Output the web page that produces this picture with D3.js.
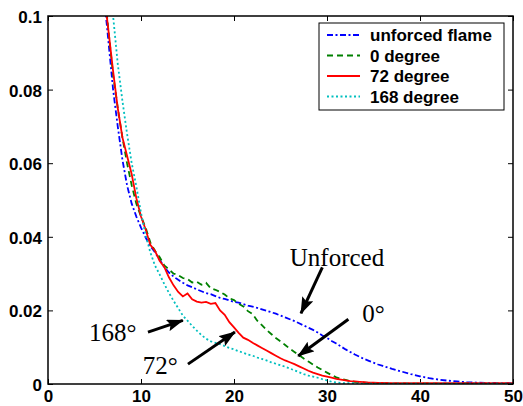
<!DOCTYPE html>
<html>
<head>
<meta charset="utf-8">
<script src="https://cdn.jsdelivr.net/npm/d3@7"></script>
<style>
  body { margin: 0; background: #fff; }
  svg { display: block; }
  .tick text { font-family: "Liberation Sans", Arial, sans-serif; font-size: 17px; font-weight: bold; fill: #000; }
  .tick line { stroke: #000; stroke-width: 1; }
</style>
</head>
<body>
<script>
// x grid (distance) shared by all series
var xs = [6,6.5,7,7.5,8,8.5,9,9.5,10,10.5,11,11.5,12,12.5,13,13.5,14,14.5,15,15.5,
  16,16.5,17,17.5,18,18.5,19,19.5,20,20.5,21,21.5,22,22.5,23,23.5,24,24.5,25,25.5,
  26,26.5,27,27.5,28,28.5,29,29.5,30,30.5,31,31.5,32,32.5,33,33.5,34,34.5,35,35.5,36,
  37,38,39,40,41,42,43,44,45,46,47,48,49,50];

var unforced = [0.106,0.093,0.080,0.070,0.061,0.054,0.049,0.0455,0.0425,0.0398,0.0375,0.0358,0.0338,0.0318,0.0303,0.0292,0.0283,0.0275,0.0268,0.0263,
  0.0257,0.0252,0.0247,0.0244,0.0239,0.0234,0.0231,0.0227,0.0223,0.0221,0.0217,0.0213,0.0210,0.0207,0.0203,0.0199,0.0195,0.0191,0.0186,0.0181,
  0.0176,0.0171,0.0165,0.0159,0.0153,0.0147,0.0140,0.0132,0.0125,0.0117,0.0110,0.0102,0.0094,0.0087,0.0080,0.0074,0.0068,0.0063,0.0058,0.0053,0.0049,
  0.0041,0.0034,0.0027,0.0021,0.0016,0.0012,0.0009,0.0007,0.0005,0.0004,0.0003,0.0003,0.0002,0.0002];

var deg0 = [0.109,0.096,0.084,0.075,0.067,0.060,0.054,0.049,0.0455,0.0425,0.0385,0.0362,0.0345,0.0322,0.0312,0.0300,0.0296,0.0288,0.0285,0.0276,
  0.0278,0.0270,0.0275,0.0260,0.0256,0.0250,0.0243,0.0233,0.0228,0.0218,0.0211,0.0198,0.0190,0.0172,0.0160,0.0147,0.0136,0.0125,0.0116,0.0106,
  0.0096,0.0087,0.0078,0.0069,0.0061,0.0053,0.0045,0.0038,0.0031,0.0024,0.0018,0.0014,0.0011,0.0008,0.0006,0.0005,0.0004,0.0003,0.0003,0.0002,0.0002,
  0.0001,0.0002,0.0001,0.0001,0.0002,0.0001,0.0001,0.0001,0.0002,0.0001,0.0001,0.0001,0.0001,0.0001];

var deg72 = [0.107,0.096,0.085,0.075,0.067,0.062,0.057,0.0505,0.0455,0.0420,0.0378,0.0362,0.0335,0.0318,0.0290,0.0268,0.0250,0.0238,0.0246,0.0230,
  0.0224,0.0221,0.0223,0.0218,0.0220,0.0200,0.0188,0.0168,0.0154,0.0139,0.0126,0.0120,0.0112,0.0105,0.0098,0.0091,0.0084,0.0077,0.0070,0.0064,
  0.0059,0.0054,0.0048,0.0042,0.0036,0.0031,0.0027,0.0023,0.0020,0.0017,0.0014,0.0012,0.0010,0.0008,0.0007,0.0006,0.0005,0.0004,0.0004,0.0003,0.0003,
  0.0002,0.0002,0.0002,0.0002,0.0002,0.0002,0.0002,0.0002,0.0002,0.0002,0.0002,0.0002,0.0002,0.0002];

var deg168 = [0.125,0.112,0.100,0.087,0.077,0.068,0.060,0.0537,0.0465,0.0405,0.0358,0.0322,0.0298,0.0272,0.0248,0.0226,0.0206,0.0186,0.0172,0.0158,
  0.0145,0.0133,0.0123,0.0116,0.0112,0.0108,0.0103,0.0098,0.0094,0.0089,0.0085,0.0080,0.0077,0.0072,0.0068,0.0064,0.0059,0.0055,0.0051,0.0047,
  0.0042,0.0037,0.0032,0.0027,0.0023,0.0020,0.0017,0.0013,0.0010,0.0006,0.0004,0.0003,0.0002,0.0002,0.0002,0.0001,0.0001,0.0001,0.0001,0.0001,0.0001,
  0.0001,0.0001,0.0001,0.0001,0.0001,0.0001,0.0001,0.0001,0.0001,0.0001,0.0001,0.0001,0.0001,0.0001];

var seriesNames = ["unforced flame", "0 degree", "72 degree", "168 degree"];
var xTicks = [0, 10, 20, 30, 40, 50];
var yTicks = [0, 0.02, 0.04, 0.06, 0.08, 0.1];

// annotation labels: text, text anchor point, arrow start, arrow tip (data coords)
var notes = [
  { t: "Unforced", at: [26.0, 0.032], from: [29.5, 0.0317], to: [27.2, 0.0192] },
  { t: "0\u00b0", at: [33.8, 0.0168], from: [32.3, 0.0176], to: [26.9, 0.0076] },
  { t: "168\u00b0", at: [4.4, 0.0117], from: [10.75, 0.0141], to: [14.5, 0.0173] },
  { t: "72\u00b0", at: [10.2, 0.0027], from: [15.05, 0.0054], to: [20.1, 0.0141] }
];

var W = 523, H = 406;
var m = { top: 16, right: 10, bottom: 22, left: 48 };
var w = W - m.left - m.right, h = H - m.top - m.bottom;

var styles = [
  { color: "#0000ff", dash: "6,2.5,2,2.5" },
  { color: "#008000", dash: "6,4" },
  { color: "#ff0000", dash: null },
  { color: "#00bfbf", dash: "2,2.5" }
];

var svg = d3.select("body").append("svg").attr("width", W).attr("height", H);
var g = svg.append("g").attr("transform", "translate(" + m.left + "," + m.top + ")");

var x = d3.scaleLinear().domain([0, 50]).range([0, w]);
var y = d3.scaleLinear().domain([0, 0.1]).range([h, 0]);

g.append("clipPath").attr("id", "clip").append("rect").attr("width", w).attr("height", h);

// axes, ticks pointing inward like matlab
g.append("g").attr("transform", "translate(0," + h + ")")
  .call(d3.axisBottom(x).tickValues(xTicks).tickSize(-5).tickSizeOuter(0).tickPadding(6).tickFormat(d3.format("d")));
var ay = g.append("g")
  .call(d3.axisLeft(y).tickValues(yTicks).tickSize(-5).tickSizeOuter(0).tickPadding(6).tickFormat(function(d) { return d === 0 ? "0" : d3.format("")(+d.toFixed(2)); }));
ay.selectAll(".tick text").attr("dy", "0.38em");
g.append("g").attr("transform", "translate(" + w + ",0)")
  .call(d3.axisRight(y).tickValues(yTicks).tickSize(-5).tickSizeOuter(0).tickFormat(""));
g.append("g")
  .call(d3.axisTop(x).tickValues(xTicks).tickSize(-5).tickSizeOuter(0).tickFormat(""));
g.selectAll(".domain").remove();

var line = d3.line().x(function(d) { return x(d[0]); }).y(function(d) { return y(d[1]); });
var allSeries = [unforced, deg0, deg72, deg168];

var plot = g.append("g").attr("clip-path", "url(#clip)");
allSeries.forEach(function(vals, i) {
  plot.append("path")
    .datum(xs.map(function(xv, j) { return [xv, vals[j]]; }))
    .attr("d", line)
    .attr("fill", "none")
    .attr("stroke", styles[i].color)
    .attr("stroke-width", 1.8)
    .attr("stroke-dasharray", styles[i].dash);
});

// frame
g.append("rect").attr("width", w).attr("height", h)
  .attr("fill", "none").attr("stroke", "#000").attr("stroke-width", 1.5);

// annotations
svg.append("defs").append("marker").attr("id", "arr")
  .attr("viewBox", "0 0 17 12").attr("refX", 16).attr("refY", 6)
  .attr("markerWidth", 17).attr("markerHeight", 12)
  .attr("markerUnits", "userSpaceOnUse").attr("orient", "auto")
  .append("path").attr("d", "M0,0L17,6L0,12L3,6Z").attr("fill", "#000");

var ann = g.append("g");
notes.forEach(function(n) {
  ann.append("line")
    .attr("x1", x(n.from[0])).attr("y1", y(n.from[1]))
    .attr("x2", x(n.to[0])).attr("y2", y(n.to[1]))
    .attr("stroke", "#000").attr("stroke-width", 3)
    .attr("marker-end", "url(#arr)");
  ann.append("text")
    .attr("x", x(n.at[0])).attr("y", y(n.at[1]))
    .attr("font-family", "'Liberation Serif', 'Times New Roman', serif")
    .attr("font-size", 25)
    .text(n.t);
});

// legend
var lg = svg.append("g").attr("transform", "translate(319,23)");
lg.append("rect").attr("width", 185).attr("height", 87)
  .attr("fill", "#fff").attr("stroke", "#000").attr("stroke-width", 1);
seriesNames.forEach(function(name, i) {
  var yy = 12 + i * 20.5;
  lg.append("line").attr("x1", 8).attr("x2", 41).attr("y1", yy).attr("y2", yy)
    .attr("stroke", styles[i].color).attr("stroke-width", 1.8)
    .attr("stroke-dasharray", styles[i].dash);
  lg.append("text").attr("x", 51).attr("y", yy).attr("dy", "0.36em")
    .attr("font-family", "'Liberation Sans', Arial, sans-serif")
    .attr("font-size", 17).attr("font-weight", "bold")
    .text(name);
});
</script>
</body>
</html>
